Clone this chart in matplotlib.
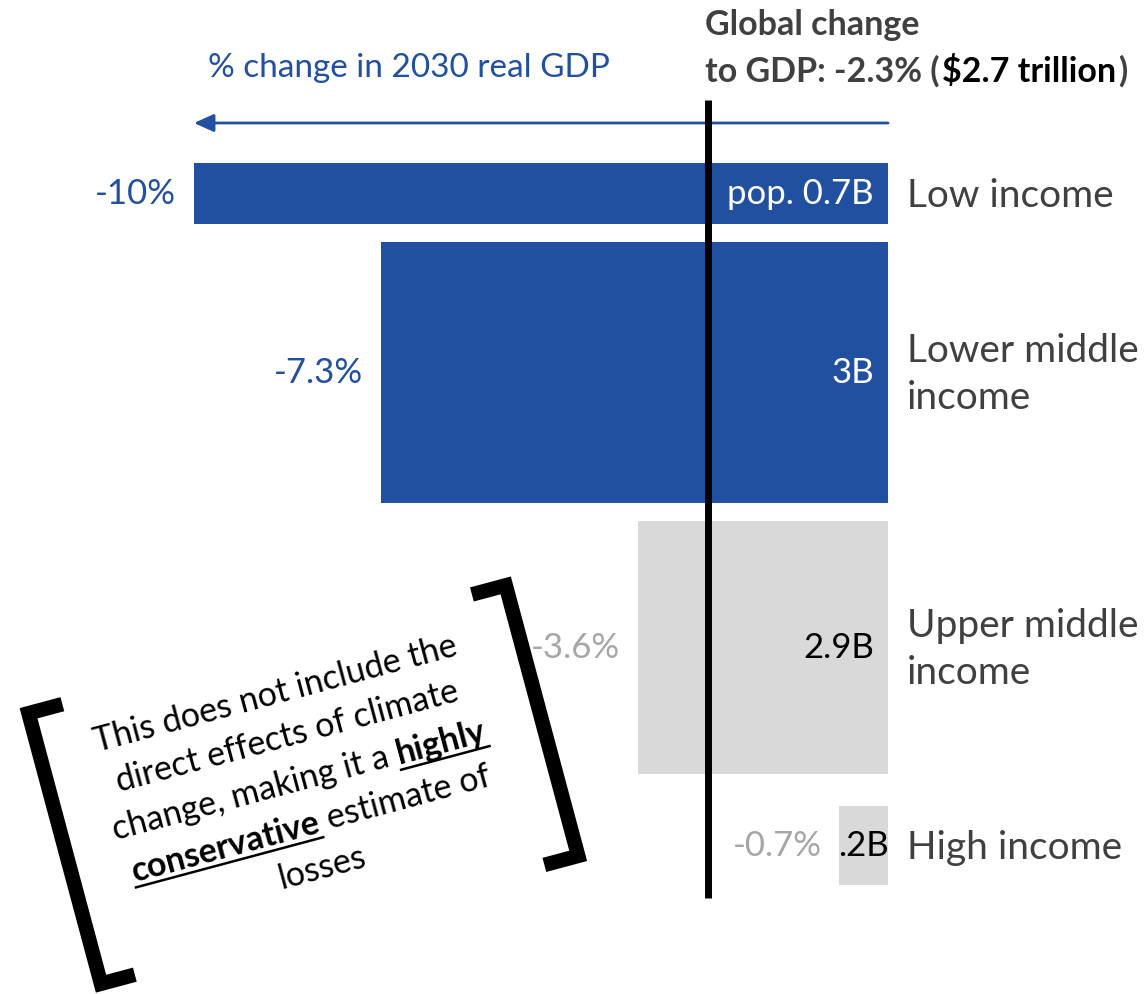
import numpy as np
import matplotlib
matplotlib.use("Agg")
import matplotlib.pyplot as plt
from matplotlib.transforms import Affine2D, IdentityTransform
from matplotlib.font_manager import FontProperties
from matplotlib.lines import Line2D

plt.rcParams['font.family'] = ['Lato', 'DejaVu Sans']

groups = ["Low income", "Lower middle\nincome", "Upper middle\nincome", "High income"]
gdp_change = [-10.0, -7.3, -3.6, -0.7]        # % change in 2030 real GDP
population = [0.7, 3.0, 2.9, 0.2]             # billions
pop_labels = ["pop. 0.7B", "3B", "2.9B", ".2B"]
value_labels = ["-10%", "-7.3%", "-3.6%", "-0.7%"]
global_line_x = -2.6                          # where the global marker is drawn
header_1 = "Global change"
header_2 = ["to GDP: -2.3% (", "$2.7 trillion", ")"]
note_lines = [
    [("This does not include the", False)],
    [("direct effects of climate", False)],
    [("change, making it a", False), ("highly", True)],
    [("conservative", True), ("estimate of", False)],
    [("losses", False)],
]

BLUE = "#2150a0"
BAR_GRAY = "#d9d9d9"
TXT_GRAY = "#a6a6a6"
DARK = "#404040"

W, H = 1148, 994
fig = plt.figure(figsize=(W / 100, H / 100), dpi=100)
ax = fig.add_axes([0, 0, 1, 1])
ax.set_axis_off()

# pixel scale of the original layout
px_x = 69.4   # px per % point
px_y = 87.3   # px per billion people
ax.set_xlim(-888 / px_x, (W - 888) / px_x)
ax.set_ylim((H - 163) / px_y, -163 / px_y)

# bars: height ~ population (the tiny one is padded so its label fits)
heights = np.array(population, dtype=float)
heights[heights < 0.5] = 0.9
gaps = [0.2, 0.2, 0.37, 0.0]
tops = []
t = 0.0
for h, g in zip(heights, gaps):
    tops.append(t)
    t += h + g
centers = np.array(tops) + heights / 2
bar_colors = [BLUE, BLUE, BAR_GRAY, BAR_GRAY]
val_colors = [BLUE, BLUE, TXT_GRAY, TXT_GRAY]
in_colors = ["white", "white", "black", "black"]
ax.barh(centers, gdp_change, height=heights, color=bar_colors)

fs = 25
for yc, v, vl, pl, g, vc, ic in zip(centers, gdp_change, value_labels, pop_labels,
                                     groups, val_colors, in_colors):
    ax.annotate(vl, (v, yc), xytext=(-18, 0), textcoords="offset pixels",
                ha="right", va="center", color=vc, fontsize=fs)
    if abs(v) < 1:
        ax.annotate(pl, (v / 2, yc), ha="center", va="center", color=ic, fontsize=fs)
    else:
        ax.annotate(pl, (0, yc), xytext=(-14, 0), textcoords="offset pixels",
                    ha="right", va="center", color=ic, fontsize=fs)
    ax.annotate(g, (0, yc), xytext=(19, -2), textcoords="offset pixels",
                ha="left", va="center", color=DARK, fontsize=28, linespacing=1.4)

# global marker
ax.plot([global_line_x] * 2, [(100 - 163) / px_y, (898 - 163) / px_y],
        color="black", lw=5, solid_capstyle="butt", zorder=5)

# direction arrow
y_arrow = (123 - 163) / px_y
ax.annotate("", xy=(min(gdp_change), y_arrow), xytext=(0, y_arrow),
            arrowprops=dict(arrowstyle="-|>,head_length=0.6,head_width=0.27",
                            color=BLUE, lw=2, shrinkA=0, shrinkB=0,
                            mutation_scale=20))

fig.text(208 / W, 1 - 68 / H, "% change in 2030 real GDP", color=BLUE,
         fontsize=24, ha="left", va="center")

renderer = fig.canvas.get_renderer()


def tw(s, size, weight="normal"):
    fp = FontProperties(family=plt.rcParams['font.family'], size=size, weight=weight)
    w, h, d = renderer.get_text_width_height_descent(s, fp, ismath=False)
    return w


pix = IdentityTransform()
hsize = 24.5
fig.text(705, H - 35, header_1, transform=pix, fontsize=hsize, weight="bold",
         color=DARK, ha="left", va="baseline")
x0 = 705
for piece, col in zip(header_2, [DARK, "black", DARK]):
    fig.text(x0, H - 82, piece.replace("$", "\\$"), transform=pix, fontsize=hsize,
             weight="bold", color=col, ha="left", va="baseline")
    x0 += tw(piece, hsize, "bold") + 2

# rotated note with brackets
ang = 15
local = Affine2D().rotate_deg(ang).translate(300, H - 772) + pix
nsize = 24.5
line_h = 45
space = tw("a a", nsize) - tw("aa", nsize)
for i, parts in enumerate(note_lines):
    widths = [tw(s, nsize, "bold" if b else "normal") for s, b in parts]
    total = sum(widths) + space * (len(parts) - 1)
    u = -total / 2 - 3
    v = (2 - i) * line_h - 18
    for (s, b), w in zip(parts, widths):
        fig.text(u, v, s, transform=local, rotation=ang, rotation_mode="anchor",
                 fontsize=nsize, weight="bold" if b else "normal",
                 ha="left", va="baseline", color="black")
        if b:
            fig.add_artist(Line2D([u, u + w], [v - 6, v - 6], transform=local,
                                  color="black", lw=1.8))
        u += w + space

for side in (-1, 1):
    xs = [side * 212, side * 247, side * 247, side * 212]
    ys = [127, 127, -153, -153]
    fig.add_artist(Line2D(xs, ys, transform=local, color="black", lw=10.5,
                          solid_joinstyle="miter", solid_capstyle="butt"))

fig.savefig("out.png", dpi=100)
